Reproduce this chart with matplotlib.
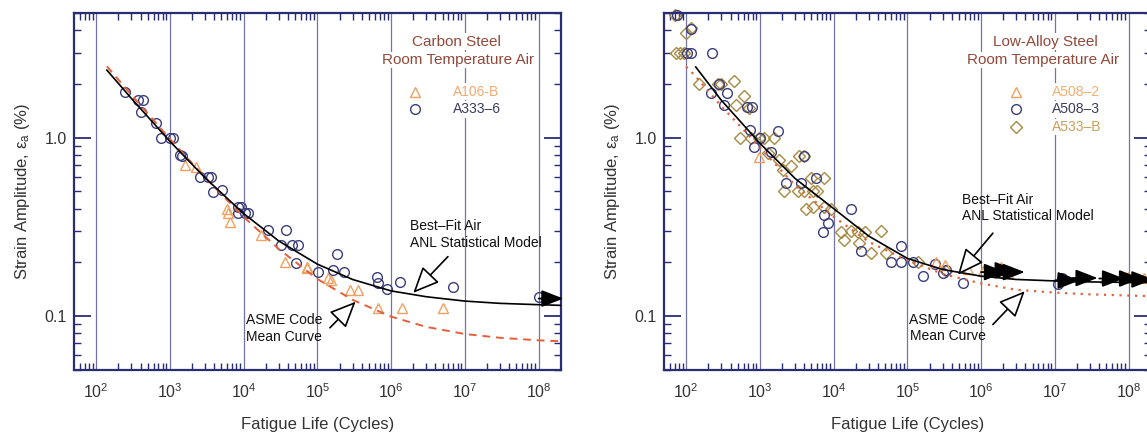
import numpy as np
import matplotlib.pyplot as plt
from matplotlib.ticker import LogLocator, FixedLocator, FixedFormatter, NullFormatter

plt.rcParams['font.family'] = ['Liberation Sans', 'DejaVu Sans']
plt.rcParams['mathtext.fontset'] = 'custom'
plt.rcParams['mathtext.rm'] = 'Liberation Sans'
plt.rcParams['mathtext.it'] = 'Liberation Sans:italic'

# ==============================
# Data
# ==============================
# --- Carbon steel (left) ---
cs_fit_n = [1.4e2, 3e2, 1e3, 3e3, 1e4, 3e4, 1e5, 3e5, 1e6, 3e6, 1e7, 3e7, 1e8, 2e8]
cs_fit_e = [2.39, 1.66, 0.953, 0.595, 0.375, 0.263, 0.195, 0.160, 0.138, 0.128, 0.121, 0.1175, 0.1155, 0.1145]
cs_asme_n = [1.4e2, 3e2, 1e3, 3e3, 1e4, 3e4, 1e5, 3e5, 1e6, 3e6, 1e7, 3e7, 1e8, 2e8]
cs_asme_e = [2.51, 1.74, 0.983, 0.597, 0.359, 0.237, 0.161, 0.123, 0.099, 0.0867, 0.0791, 0.0753, 0.0729, 0.072]

a333_n = [243, 367, 430, 408, 653, 764, 990, 1097, 1355, 1456, 2535, 3280, 3630, 3840, 5130,
          8400, 9330, 8400, 10300, 11500, 21400, 38000, 32600, 44700, 55000, 51900, 103000,
          182000, 164000, 231000, 637000, 670000, 890000, 1.32e6, 6.9e6, 1.0e8]
a333_e = [1.80, 1.62, 1.62, 1.39, 1.20, 1.0, 1.0, 1.0, 0.796, 0.786, 0.602, 0.602, 0.602, 0.496, 0.507,
          0.409, 0.409, 0.376, 0.376, 0.376, 0.303, 0.303, 0.25, 0.25, 0.25, 0.197, 0.177,
          0.221, 0.18, 0.177, 0.165, 0.152, 0.1416, 0.1556, 0.145, 0.127]
a106_n = [1585, 2290, 6000, 6150, 6500, 17400, 36600, 72000, 71300, 140000, 155000,
          275000, 355000, 670000, 1.39e6, 5.1e6]
a106_e = [0.70, 0.685, 0.40, 0.376, 0.337, 0.284, 0.201, 0.189, 0.185, 0.162, 0.159,
          0.14, 0.14, 0.110, 0.110, 0.110]
cs_runout_n = [1.0e8]
cs_runout_e = [0.125]

# --- Low-alloy steel (right) ---
las_fit_n = [1.35e2, 3e2, 1e3, 3e3, 1e4, 3e4, 1e5, 3e5, 1e6, 3e6, 1e7, 3e7, 1e8, 2e8]
las_fit_e = [2.49, 1.62, 0.93, 0.59, 0.40, 0.28, 0.21, 0.182, 0.167, 0.160, 0.157, 0.155, 0.154, 0.154]
las_asme_n = [1e2, 1.3e2, 3e2, 5.5e2, 1e3, 3e3, 1e4, 3e4, 1e5, 3e5, 1e6, 3e6, 1e7, 3e7, 1e8, 2e8]
las_asme_e = [2.5, 2.24, 1.5, 1.15, 0.88, 0.54, 0.36, 0.26, 0.205, 0.172, 0.152, 0.140, 0.135, 0.132, 0.130, 0.129]

a508_3_n = [75, 104, 116, 225, 118, 216, 280, 363, 328, 676, 774, 745, 1020, 832, 1740, 1410,
            3980, 2260, 3610, 5750, 7500, 17400, 7100, 8300, 23400, 83000, 60000, 83000,
            119000, 162000, 234000, 302000, 339000, 560000, 1.12e7, 1.26e7]
a508_3_e = [4.9, 3.0, 3.0, 3.0, 4.05, 1.79, 2.01, 1.77, 1.52, 1.49, 1.49, 1.10, 1.0, 0.89, 1.09, 0.83,
            0.79, 0.555, 0.555, 0.59, 0.37, 0.397, 0.297, 0.33, 0.23, 0.247, 0.20, 0.20,
            0.20, 0.167, 0.196, 0.174, 0.18, 0.152, 0.15, 0.163]
a533_n = [70, 100, 115, 72, 82, 93, 150, 270, 300, 449, 473, 601, 718, 542, 760, 980, 1150, 1570,
          1270, 1840, 2630, 2040, 3430, 3980, 2140, 3240, 3980, 5250, 6030, 4900, 7500,
          4220, 5250, 7500, 9330, 12600, 17400, 21400, 26300, 44200, 14000, 22400,
          32400, 51300, 138000, 339000]
a533_e = [4.9, 3.85, 4.1, 3.0, 3.0, 3.0, 2.0, 2.01, 2.01, 2.08, 1.52, 1.71, 1.46, 0.99, 0.99, 0.99, 0.99, 0.99,
          0.82, 0.75, 0.69, 0.66, 0.79, 0.79, 0.50, 0.50, 0.50, 0.50, 0.50, 0.59, 0.59,
          0.40, 0.41, 0.41, 0.40, 0.297, 0.30, 0.297, 0.297, 0.30, 0.267, 0.256,
          0.225, 0.225, 0.20, 0.178]
a508_2_n = [977, 245000, 320000, 660000, 1.07e6, 1.86e6, 2.29e6, 2.2e7, 4.8e7, 9.8e7, 1.6e8]
a508_2_e = [0.78, 0.20, 0.192, 0.182, 0.178, 0.188, 0.175, 0.165, 0.163, 0.165, 0.163]
las_runout_n = [1.0e6, 1.4e6, 1.8e6, 1.0e7, 1.75e7, 4.0e7, 6.8e7, 1.0e8]
las_runout_e = [0.176, 0.180, 0.176, 0.158, 0.163, 0.162, 0.162, 0.160]

x_ticks = [1e2, 1e3, 1e4, 1e5, 1e6, 1e7, 1e8]
x_ticklabels = ['$10^{2}$', '$10^{3}$', '$10^{4}$', '$10^{5}$', '$10^{6}$', '$10^{7}$', '$10^{8}$']
y_ticks = [0.1, 1.0]
y_ticklabels = ['0.1', '1.0']

# ==============================
# Styles
# ==============================
NAVY = '#2a2d72'
GRID = '#7074aa'
TXT = '#333333'
TITLE_C = '#93493a'
CIRC_C = '#3b3e7c'
TRI_C = '#f0a060'
DIA_C = '#a88a40'
RED = '#e2603c'
WHITE_BOX = dict(facecolor='white', edgecolor='none', pad=1.0)

fig = plt.figure(figsize=(11.47, 4.33), dpi=100)
W, H = 1147.0, 433.0
ax1 = fig.add_axes([74 / W, (H - 369.5) / H, 486.7 / W, 356.5 / H])
ax2 = fig.add_axes([664 / W, (H - 369.5) / H, 486.7 / W, 356.5 / H])


def setup(ax):
    ax.set_xscale('log')
    ax.set_yscale('log')
    ax.set_xlim(10 ** 1.7, 10 ** 8.3)
    ax.set_ylim(0.05, 5)
    ax.xaxis.set_major_locator(FixedLocator(x_ticks))
    ax.xaxis.set_major_formatter(FixedFormatter(x_ticklabels))
    ax.xaxis.set_minor_locator(LogLocator(base=10, subs=np.arange(2, 10), numticks=100))
    ax.xaxis.set_minor_formatter(NullFormatter())
    ax.yaxis.set_major_locator(FixedLocator(y_ticks))
    ax.yaxis.set_major_formatter(FixedFormatter(y_ticklabels))
    ax.yaxis.set_minor_locator(LogLocator(base=10, subs=np.arange(2, 10), numticks=100))
    ax.yaxis.set_minor_formatter(NullFormatter())
    ax.tick_params(which='both', direction='in', top=True, right=True,
                   color=NAVY, labelcolor=TXT)
    ax.tick_params(axis='y', which='major', length=12, width=1.3, pad=5, labelsize=11.5)
    ax.tick_params(axis='y', which='minor', length=5, width=1.0)
    ax.tick_params(axis='x', which='major', length=0, pad=9, labelsize=11.5)
    ax.tick_params(axis='x', which='minor', length=5, width=1.0)
    ax.grid(True, axis='x', which='major', color=GRID, lw=0.9)
    ax.set_axisbelow(True)
    for s in ax.spines.values():
        s.set_color(NAVY)
        s.set_linewidth(1.6)
    ax.set_xlabel('Fatigue Life (Cycles)', fontsize=12, color=TXT, labelpad=12)
    ax.set_ylabel('Strain Amplitude, ε$_\\mathregular{a}$ (%)', fontsize=12,
                  color=TXT, labelpad=9)


def runouts(ax, n, e):
    for xn, ye in zip(n, e):
        ax.annotate('', xy=(xn * 2.17, ye), xytext=(xn, ye), annotation_clip=False,
                    arrowprops=dict(arrowstyle='-|>,head_length=0.9,head_width=0.35',
                                    color='black', lw=1.3, mutation_scale=15,
                                    shrinkA=0, shrinkB=0), zorder=5)


def hollow_arrow(ax, tail, tip):
    ax.annotate('', xy=tip, xytext=tail,
                arrowprops=dict(arrowstyle='-|>,head_length=0.9,head_width=0.4',
                                fc='white', ec='black', lw=1.2, mutation_scale=18,
                                shrinkA=0, shrinkB=0), zorder=6)


def legend_text(ax, x, y, s, color, size):
    ax.text(x, y, s, transform=ax.transAxes, va='center', fontsize=size,
            color=color, bbox=WHITE_BOX, zorder=7)


mk = dict(ls='none', mfc='none', mew=1.0, ms=7, clip_on=False)

# ==============================
# Left: carbon steel
# ==============================
setup(ax1)
ax1.plot(a106_n, a106_e, marker='^', mec=TRI_C, zorder=2, **mk)
ax1.plot(a333_n, a333_e, marker='o', mec=CIRC_C, zorder=2, **mk)
ax1.plot(cs_asme_n, cs_asme_e, color=RED, lw=1.4, ls=(0, (4, 3)), zorder=3)
ax1.plot(cs_fit_n, cs_fit_e, color='black', lw=1.2, zorder=4)
runouts(ax1, cs_runout_n, cs_runout_e)

ax1.text(0.785, 0.92, 'Carbon Steel', transform=ax1.transAxes, ha='center', va='center',
         fontsize=11, color=TITLE_C, bbox=WHITE_BOX)
ax1.text(0.789, 0.868, 'Room Temperature Air', transform=ax1.transAxes, ha='center',
         va='center', fontsize=11, color=TITLE_C, bbox=WHITE_BOX)
ax1.plot([0.70], [0.779], marker='^', transform=ax1.transAxes, mec=TRI_C, **mk)
ax1.plot([0.70], [0.730], marker='o', transform=ax1.transAxes, mec=CIRC_C, **mk)
legend_text(ax1, 0.779, 0.779, 'A106-B', '#f2aa70', 10)
legend_text(ax1, 0.779, 0.730, 'A333–6', '#3a3d60', 10)

ax1.text(1.8e6, 0.286, 'Best–Fit Air\nANL Statistical Model', fontsize=10, ha='left',
         va='center', linespacing=1.2, color='#111111')
hollow_arrow(ax1, (5.9e6, 0.215), (2.0e6, 0.1345))
ax1.text(3.5e4, 0.085, 'ASME Code\nMean Curve', fontsize=10, ha='center',
         va='center', linespacing=1.2, color='#111111')
hollow_arrow(ax1, (1.48e5, 0.0857), (3.3e5, 0.12))

# ==============================
# Right: low-alloy steel
# ==============================
setup(ax2)
ax2.plot(a533_n, a533_e, marker='D', mec=DIA_C, zorder=2, **dict(mk, ms=6))
ax2.plot(a508_3_n, a508_3_e, marker='o', mec=CIRC_C, zorder=2, **mk)
ax2.plot(a508_2_n, a508_2_e, marker='^', mec=TRI_C, zorder=2, **mk)
ax2.plot(las_asme_n, las_asme_e, color=RED, lw=1.6, ls=(0, (1, 2.5)), zorder=3)
ax2.plot(las_fit_n, las_fit_e, color='black', lw=1.2, zorder=4)
runouts(ax2, las_runout_n, las_runout_e)

ax2.text(0.783, 0.92, 'Low-Alloy Steel', transform=ax2.transAxes, ha='center', va='center',
         fontsize=11, color=TITLE_C, bbox=WHITE_BOX)
ax2.text(0.779, 0.868, 'Room Temperature Air', transform=ax2.transAxes, ha='center',
         va='center', fontsize=11, color=TITLE_C, bbox=WHITE_BOX)
ax2.plot([0.723], [0.779], marker='^', transform=ax2.transAxes, mec=TRI_C, **mk)
ax2.plot([0.723], [0.730], marker='o', transform=ax2.transAxes, mec=CIRC_C, **mk)
ax2.plot([0.723], [0.680], marker='D', transform=ax2.transAxes, mec=DIA_C, **dict(mk, ms=6))
legend_text(ax2, 0.797, 0.779, 'A508–2', '#f2b070', 10)
legend_text(ax2, 0.797, 0.730, 'A508–3', '#3a3d60', 10)
legend_text(ax2, 0.797, 0.680, 'A533–B', '#c8a060', 10)

ax2.text(10 ** 5.746, 0.402, 'Best–Fit Air\nANL Statistical Model', fontsize=10, ha='left',
         va='center', linespacing=1.2, color='#111111')
hollow_arrow(ax2, (10 ** 6.16, 0.291), (10 ** 5.686, 0.170))
ax2.text(10 ** 5.546, 0.0857, 'ASME Code\nMean Curve', fontsize=10, ha='center',
         va='center', linespacing=1.2, color='#111111')
hollow_arrow(ax2, (10 ** 6.16, 0.0894), (10 ** 6.592, 0.1375))

fig.savefig('out.png', dpi=100)
